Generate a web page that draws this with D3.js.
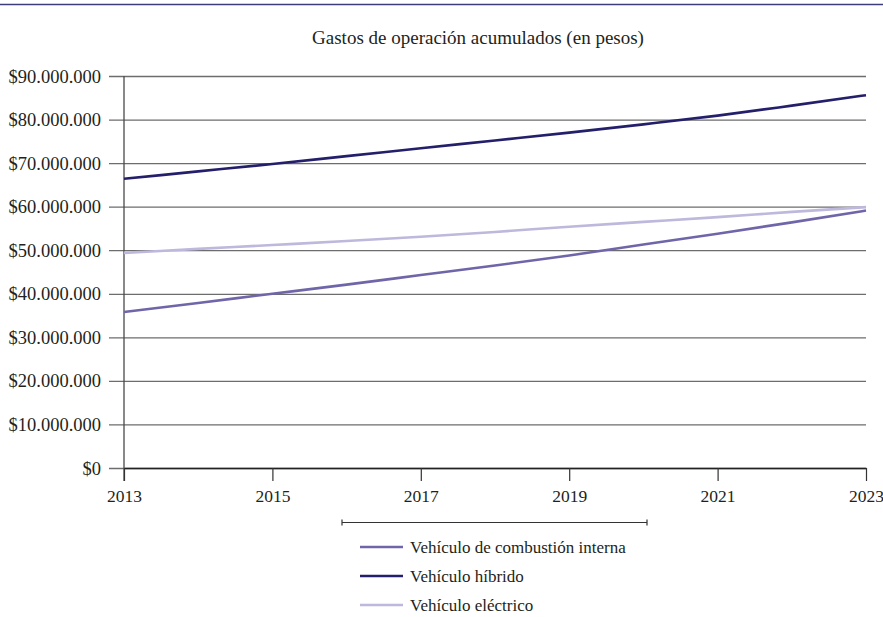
<!DOCTYPE html>
<html>
<head>
<meta charset="utf-8">
<script src="https://cdn.jsdelivr.net/npm/d3@7"></script>
<style>
  html, body { margin: 0; padding: 0; background: #fff; }
  svg text { font-family: "Liberation Serif", "DejaVu Serif", serif; fill: #231f20; }
</style>
</head>
<body>
<svg id="chart" width="883" height="617"></svg>
<script>
// Accumulated operating costs, in millions of pesos, per year
const years = [2013, 2014, 2015, 2016, 2017, 2018, 2019, 2020, 2021, 2022, 2023];
const combustion = [35.8, 37.9, 40.0, 42.1, 44.3, 46.5, 48.8, 51.3, 53.8, 56.4, 59.1];
const hybrid     = [66.4, 68.1, 69.8, 71.6, 73.4, 75.2, 77.0, 78.9, 80.9, 83.2, 85.6];
const electric   = [49.4, 50.3, 51.2, 52.1, 53.1, 54.2, 55.4, 56.5, 57.6, 58.8, 59.9];
const yTicks = [0, 10, 20, 30, 40, 50, 60, 70, 80, 90];
const xTicks = [2013, 2015, 2017, 2019, 2021, 2023];
const seriesNames = ["Vehículo de combustión interna", "Vehículo híbrido", "Vehículo eléctrico"];
const seriesColors = ["#6f66a9", "#241f6b", "#bdb8dc"];
const title = "Gastos de operación acumulados (en pesos)";

const series = [combustion, hybrid, electric].map((vals, i) => ({
  name: seriesNames[i], color: seriesColors[i],
  points: years.map((y, j) => ({ year: y, value: vals[j] }))
}));

const svg = d3.select("#chart");
const margin = { left: 124, right: 17, top: 76, bottom: 149 };
const W = 883, H = 617;

const x = d3.scaleLinear().domain([2013, 2023]).range([margin.left, W - margin.right]);
const y = d3.scaleLinear().domain([0, 90]).range([H - margin.bottom, margin.top]);

// Top rule
svg.append("line")
  .attr("x1", 0).attr("x2", W).attr("y1", 4.5).attr("y2", 4.5)
  .attr("stroke", "#3f3c7a").attr("stroke-width", 1.6);

// Title
svg.append("text")
  .attr("x", 478).attr("y", 44)
  .attr("text-anchor", "middle")
  .attr("font-size", 19)
  .text(title);

const fmt = v => v === 0 ? "$0" : "$" + d3.format(",")(v * 1e6).replace(/,/g, ".");

// Horizontal gridlines with outward tick on the left
const yAxis = d3.axisLeft(y)
  .tickValues(yTicks)
  .tickSize(-(W - margin.right - margin.left))
  .tickSizeOuter(0)
  .tickFormat(fmt);
const gy = svg.append("g").attr("transform", `translate(${margin.left},0)`).call(yAxis);
gy.select(".domain").remove();
gy.selectAll(".tick line")
  .attr("x1", -15)
  .attr("stroke", "#6d6d6d").attr("stroke-width", 1.3);
gy.selectAll(".tick text")
  .attr("x", -23).attr("dy", "0.33em")
  .attr("font-size", 18.5).attr("font-family", "Liberation Serif, serif")
  .attr("fill", "#231f20");

// Left vertical axis line
svg.append("line")
  .attr("x1", margin.left).attr("x2", margin.left)
  .attr("y1", margin.top).attr("y2", H - margin.bottom + 13)
  .attr("stroke", "#4a4a4a").attr("stroke-width", 1.3);

// Bottom axis
const xAxis = d3.axisBottom(x)
  .tickValues(xTicks)
  .tickSize(13)
  .tickSizeOuter(0)
  .tickFormat(d3.format("d"));
const gx = svg.append("g").attr("transform", `translate(0,${H - margin.bottom})`).call(xAxis);
gx.select(".domain").attr("stroke", "#222").attr("stroke-width", 1.5);
gx.selectAll(".tick line").attr("stroke", "#333").attr("stroke-width", 1.2);
gx.selectAll(".tick text")
  .attr("y", 22).attr("dy", "0.71em")
  .attr("font-size", 17.5).attr("font-family", "Liberation Serif, serif")
  .attr("fill", "#231f20");

// Series lines
const line = d3.line().x(d => x(d.year)).y(d => y(d.value)).curve(d3.curveMonotoneX);
svg.append("g").selectAll("path")
  .data([series[2], series[0], series[1]])
  .join("path")
  .attr("d", d => line(d.points))
  .attr("fill", "none")
  .attr("stroke", d => d.color)
  .attr("stroke-width", 2.6);

// Legend bracket
const bx1 = 342, bx2 = 647, by = 522.5;
const bracket = svg.append("g").attr("stroke", "#333").attr("stroke-width", 1.2);
bracket.append("line").attr("x1", bx1).attr("x2", bx2).attr("y1", by).attr("y2", by);
bracket.append("line").attr("x1", bx1).attr("x2", bx1).attr("y1", by - 3).attr("y2", by + 3);
bracket.append("line").attr("x1", bx2).attr("x2", bx2).attr("y1", by - 3).attr("y2", by + 3);

// Legend
const legend = svg.append("g").selectAll("g")
  .data(series)
  .join("g")
  .attr("transform", (d, i) => `translate(360,${547 + i * 29})`);
legend.append("line")
  .attr("x1", 0).attr("x2", 43).attr("y1", 0).attr("y2", 0)
  .attr("stroke", d => d.color).attr("stroke-width", 2.6);
legend.append("text")
  .attr("x", 50).attr("dy", "0.33em")
  .attr("font-size", 17)
  .text(d => d.name);
</script>
</body>
</html>
